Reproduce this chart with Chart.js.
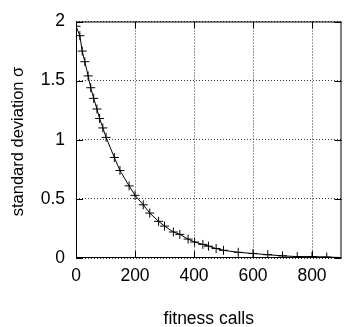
<!DOCTYPE html>
<html>
<head>
<meta charset="utf-8">
<script src="https://cdn.jsdelivr.net/npm/chart.js@4/dist/chart.umd.min.js"></script>
<style>
  html, body { margin: 0; padding: 0; background: #fff; }
  #wrap { width: 347px; height: 327px; }
</style>
</head>
<body>
<div id="wrap"><canvas id="sigmaChart" width="347" height="327"></canvas></div>
<script>
// fitness calls vs. standard deviation
const CALLS = [0, 13, 21, 30, 41, 50, 60, 71, 80, 91, 102, 130, 149, 180, 200, 228, 250, 280,
               300, 330, 352, 380, 402, 430, 449, 475, 500, 550, 600, 650, 700, 750, 800, 850, 900];
const SIGMA = [1.96, 1.88, 1.75, 1.66, 1.54, 1.44, 1.35, 1.26, 1.18, 1.10, 1.02, 0.85, 0.74, 0.61,
               0.53, 0.45, 0.38, 0.31, 0.27, 0.22, 0.20, 0.16, 0.135, 0.115, 0.10, 0.08, 0.065,
               0.048, 0.038, 0.028, 0.018, 0.012, 0.012, 0.008, 0.004];
const X_TICKS = [0, 200, 400, 600, 800];
const Y_TICKS = [0, 0.5, 1, 1.5, 2];

const FONT = 'Liberation Sans, Arial, Helvetica, sans-serif';
const FONT_SIZE = 17.5;

// gnuplot style frame: box border, inward ticks on all four sides, y label
const framePlugin = {
    id: 'frame',
    afterDraw(chart) {
        const {ctx, chartArea: a, scales: {x, y}} = chart;
        const t = 7;
        ctx.save();
        ctx.strokeStyle = '#000';
        ctx.lineWidth = 1;
        ctx.beginPath();
        X_TICKS.forEach(v => {
            const px = Math.round(x.getPixelForValue(v)) + 0.5;
            ctx.moveTo(px, a.bottom); ctx.lineTo(px, a.bottom - t);
            ctx.moveTo(px, a.top); ctx.lineTo(px, a.top + t);
        });
        Y_TICKS.forEach(v => {
            const py = Math.round(y.getPixelForValue(v)) + 0.5;
            ctx.moveTo(a.left, py); ctx.lineTo(a.left + t, py);
            ctx.moveTo(a.right, py); ctx.lineTo(a.right - t, py);
        });
        ctx.stroke();
        ctx.strokeRect(a.left + 0.5, a.top + 0.5, a.right - a.left - 1, a.bottom - a.top - 1);

        ctx.translate(18, 141.5);
        ctx.rotate(-Math.PI / 2);
        ctx.fillStyle = '#000';
        ctx.font = '16.5px ' + FONT;
        ctx.textAlign = 'center';
        ctx.textBaseline = 'middle';
        ctx.fillText('standard deviation σ', 0, 0);
        ctx.restore();
    }
};

const ctx = document.getElementById('sigmaChart').getContext('2d');
new Chart(ctx, {
    type: 'scatter',
    data: {
        datasets: [{
            data: CALLS.map((c, i) => ({x: c, y: SIGMA[i]})),
            showLine: true,
            borderColor: '#000',
            borderWidth: 1,
            pointStyle: 'cross',
            pointRadius: c => (c.dataIndex === CALLS.length - 1 ? 0 : 4.5),
            pointBorderColor: '#000',
            pointBorderWidth: 1,
            tension: 0
        }]
    },
    options: {
        responsive: false,
        animation: false,
        layout: { padding: { top: 13, right: 1, left: 0, bottom: 0 } },
        scales: {
            x: {
                type: 'linear',
                min: 0,
                max: 900,
                afterFit: s => { s.height = 69; },
                afterBuildTicks: s => { s.ticks = X_TICKS.map(v => ({value: v})); },
                ticks: {
                    color: '#000', font: { family: FONT, size: FONT_SIZE }, padding: 8, maxRotation: 0,
                    callback: v => String(v)
                },
                grid: { color: '#333', drawTicks: false, lineWidth: 1 },
                border: { display: false, dash: [1, 2] },
                title: {
                    display: true,
                    text: 'fitness calls',
                    color: '#000',
                    font: { family: FONT, size: FONT_SIZE, lineHeight: 1 },
                    padding: { top: 0, bottom: -1 }
                }
            },
            y: {
                type: 'linear',
                min: 0,
                max: 2,
                afterFit: s => { s.width = 76; },
                afterBuildTicks: s => { s.ticks = Y_TICKS.map(v => ({value: v})); },
                ticks: {
                    color: '#000', font: { family: FONT, size: FONT_SIZE }, padding: 11,
                    callback: v => String(v)
                },
                grid: { color: '#333', drawTicks: false, lineWidth: 1 },
                border: { display: false, dash: [1, 2] }
            }
        },
        plugins: {
            legend: { display: false },
            tooltip: { enabled: false }
        }
    },
    plugins: [framePlugin]
});
</script>
</body>
</html>
